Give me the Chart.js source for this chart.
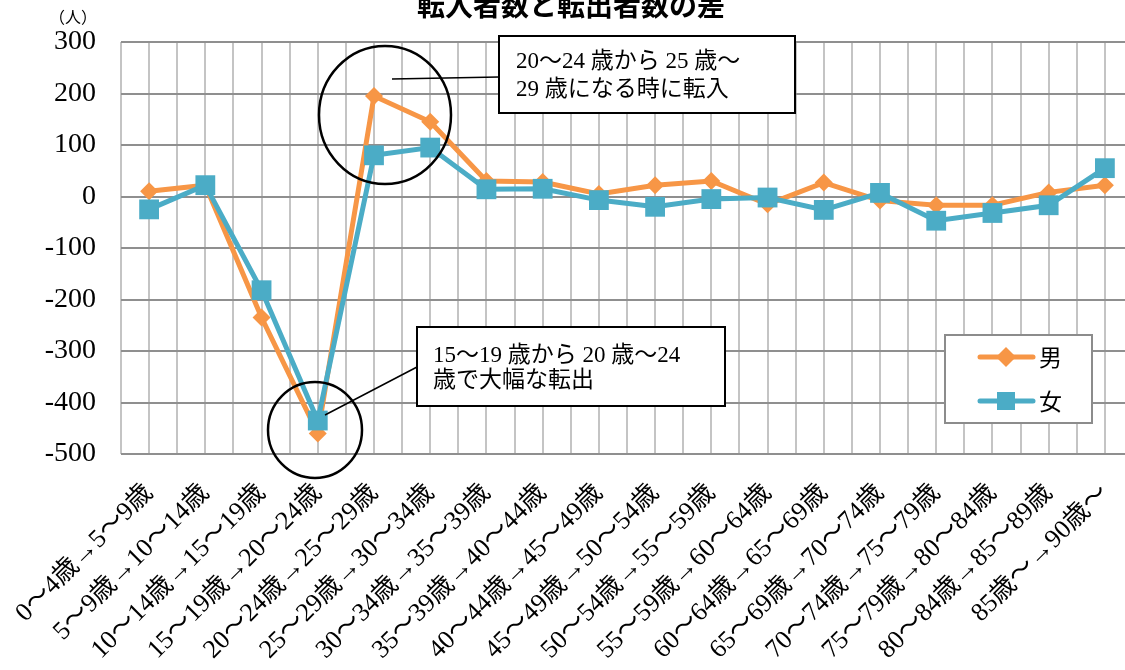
<!DOCTYPE html>
<html lang="ja">
<head>
<meta charset="utf-8">
<title>転入者数と転出者数の差</title>
<script src="https://cdn.jsdelivr.net/npm/chart.js@4.4.1/dist/chart.umd.min.js"></script>
<style>
    html, body { margin: 0; padding: 0; background: #fff; overflow: hidden; }
    canvas { display: block; }
</style>
</head>
<body>
<canvas id="migrationChart" width="1150" height="670"></canvas>
<script>
// Age cohort moves (5 years later)
const ageLabels = [
    '0～4歳→5～9歳', '5～9歳→10～14歳', '10～14歳→15～19歳', '15～19歳→20～24歳',
    '20～24歳→25～29歳', '25～29歳→30～34歳', '30～34歳→35～39歳', '35～39歳→40～44歳',
    '40～44歳→45～49歳', '45～49歳→50～54歳', '50～54歳→55～59歳', '55～59歳→60～64歳',
    '60～64歳→65～69歳', '65～69歳→70～74歳', '70～74歳→75～79歳', '75～79歳→80～84歳',
    '80～84歳→85～89歳', '85歳～→90歳～'
];

// Net migration (in - out), persons
const maleDiff = [10, 22, -235, -460, 195, 145, 30, 28, 5, 22, 30, -15, 27, -8, -17, -17, 8, 22];
const femaleDiff = [-25, 22, -182, -435, 80, 95, 14, 15, -7, -20, -5, -2, -26, 7, -47, -32, -17, 55];

const yTicks = [-500, -400, -300, -200, -100, 0, 100, 200, 300];

const seriesNames = ['男', '女'];
const seriesColors = ['#F79646', '#4BACC6'];

const serif = "'Liberation Serif', 'Noto Sans CJK JP', serif";
const gothic = "'Noto Sans CJK JP', sans-serif";

// Extra vertical lines at each category centre (under the other grid lines)
const centreGrid = {
    id: 'centreGrid',
    beforeDraw: (chart) => {
        const { ctx, chartArea, scales } = chart;
        ctx.save();
        ctx.strokeStyle = '#c4c4c4';
        ctx.lineWidth = 2;
        ageLabels.forEach((_, i) => {
            const x = Math.round(scales.x.getPixelForValue(i));
            ctx.beginPath();
            ctx.moveTo(x, chartArea.top);
            ctx.lineTo(x, chartArea.bottom);
            ctx.stroke();
        });
        ctx.restore();
    }
};

// Circles, leader lines and text boxes
const callouts = {
    id: 'callouts',
    afterDatasetsDraw: (chart) => {
        const ctx = chart.ctx;
        ctx.save();
        ctx.strokeStyle = '#000';

        // circles
        ctx.lineWidth = 2.5;
        ctx.beginPath();
        ctx.ellipse(385, 115, 66, 69, 0, 0, Math.PI * 2);
        ctx.stroke();
        ctx.beginPath();
        ctx.ellipse(315, 430, 47, 48, 0, 0, Math.PI * 2);
        ctx.stroke();

        // leader lines
        ctx.lineWidth = 1.5;
        ctx.beginPath();
        ctx.moveTo(392, 79);
        ctx.lineTo(499, 77);
        ctx.moveTo(325, 415);
        ctx.lineTo(417, 367);
        ctx.stroke();

        // boxes
        const boxes = [
            { x: 499, y: 36, w: 296, h: 77, lines: ['20～24 歳から 25 歳～', '29 歳になる時に転入'], tx: 516, ty: [62, 90] },
            { x: 417, y: 327, w: 308, h: 79, lines: ['15～19 歳から 20 歳～24', '歳で大幅な転出'], tx: 433, ty: [356, 381] }
        ];
        boxes.forEach(b => {
            ctx.fillStyle = '#fff';
            ctx.fillRect(b.x, b.y, b.w, b.h);
            ctx.lineWidth = 2;
            ctx.strokeRect(b.x, b.y, b.w, b.h);
            ctx.fillStyle = '#000';
            ctx.font = `23px ${serif}`;
            ctx.textBaseline = 'middle';
            ctx.textAlign = 'left';
            b.lines.forEach((t, i) => ctx.fillText(t, b.tx, b.ty[i]));
        });
        ctx.restore();
    }
};

// Title, unit and legend box
const decorations = {
    id: 'decorations',
    afterDraw: (chart) => {
        const ctx = chart.ctx;
        ctx.save();

        ctx.fillStyle = '#000';
        ctx.textBaseline = 'middle';
        ctx.textAlign = 'center';
        ctx.font = `bold 28px ${gothic}`;
        ctx.fillText('転入者数と転出者数の差', 571, 5);

        ctx.font = `16px ${serif}`;
        ctx.fillText('（人）', 73, 19);

        // legend
        ctx.fillStyle = '#fff';
        ctx.fillRect(945, 335, 147, 88);
        ctx.strokeStyle = '#8c8c8c';
        ctx.lineWidth = 2;
        ctx.strokeRect(945, 335, 147, 88);

        const rows = [357, 401];
        seriesNames.forEach((name, i) => {
            const y = rows[i];
            const c = seriesColors[i];
            ctx.strokeStyle = c;
            ctx.fillStyle = c;
            ctx.lineWidth = 5;
            ctx.lineCap = 'round';
            ctx.beginPath();
            ctx.moveTo(980, y);
            ctx.lineTo(1033, y);
            ctx.stroke();
            ctx.beginPath();
            if (i === 0) {
                ctx.moveTo(1006, y - 10);
                ctx.lineTo(1016, y);
                ctx.lineTo(1006, y + 10);
                ctx.lineTo(996, y);
                ctx.closePath();
                ctx.fill();
            } else {
                ctx.fillRect(997, y - 9, 18, 18);
            }
            ctx.fillStyle = '#000';
            ctx.textAlign = 'left';
            ctx.font = `23px ${gothic}`;
            ctx.fillText(name, 1039, y);
        });
        ctx.restore();
    }
};

const ctx = document.getElementById('migrationChart');
new Chart(ctx, {
    type: 'line',
    data: {
        labels: ageLabels,
        datasets: [{
            label: seriesNames[0],
            data: maleDiff,
            borderColor: seriesColors[0],
            backgroundColor: seriesColors[0],
            borderWidth: 5,
            pointStyle: 'rectRot',
            pointRadius: 9,
            pointBorderWidth: 0,
            order: 1
        }, {
            label: seriesNames[1],
            data: femaleDiff,
            borderColor: seriesColors[1],
            backgroundColor: seriesColors[1],
            borderWidth: 5,
            pointStyle: 'rect',
            pointRadius: 14,
            pointBorderWidth: 0,
            order: 0
        }]
    },
    options: {
        responsive: false,
        animation: false,
        layout: { padding: { top: 42, right: 17, bottom: 0, left: 0 } },
        plugins: {
            legend: { display: false },
            title: { display: false },
            tooltip: { enabled: false }
        },
        scales: {
            x: {
                offset: true,
                grid: { offset: true, color: '#c4c4c4', lineWidth: 2, drawTicks: false },
                border: { display: false },
                ticks: {
                    autoSkip: false,
                    minRotation: 45,
                    maxRotation: 45,
                    padding: 24,
                    color: '#000',
                    font: { family: serif, size: 26 }
                },
                afterFit: (scale) => {
                    // keep the plot edges fixed; long labels may run off the left side
                    scale.height = 216;
                    scale.paddingLeft = 0;
                    scale.paddingRight = 0;
                }
            },
            y: {
                min: -500,
                max: 300,
                afterBuildTicks: (scale) => { scale.ticks = yTicks.map(v => ({ value: v })); },
                grid: { color: '#8f8f8f', lineWidth: 2, drawTicks: false },
                border: { display: false },
                ticks: {
                    padding: 25,
                    color: '#000',
                    font: { family: serif, size: 28 }
                },
                afterFit: (scale) => { scale.width = 121; }
            }
        }
    },
    plugins: [centreGrid, callouts, decorations]
});
</script>
</body>
</html>
